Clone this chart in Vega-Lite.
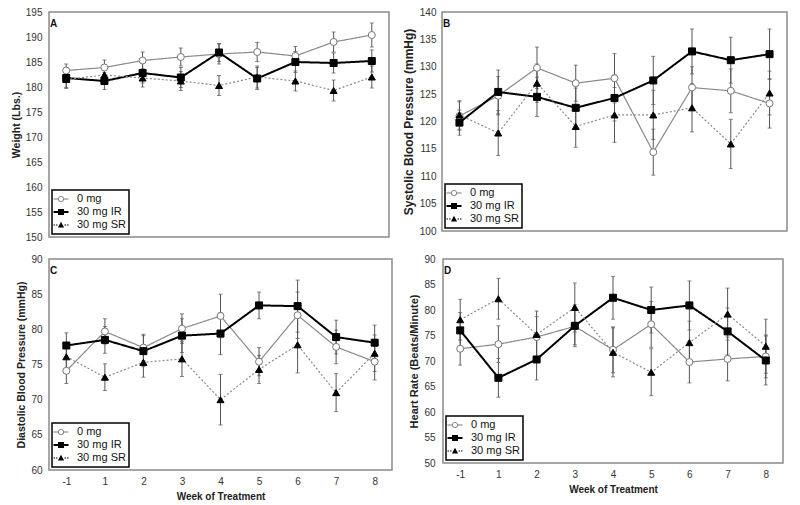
{
  "$schema": "https://vega.github.io/schema/vega-lite/v6.json",
  "padding": {"left": 10, "top": 6, "right": 5, "bottom": 2},
  "background": "white",
  "config": {
    "font": "Liberation Sans",
    "view": {"stroke": "#8a8a8a", "strokeWidth": 1.5},
    "axisY": {"domain": false, "ticks": false, "grid": false, "labelOverlap": false, "labelFont": "Liberation Sans", "labelFontSize": 10, "labelColor": "#333", "labelPadding": 7, "titleFont": "Liberation Sans", "titleFontSize": 10.5, "titleFontWeight": "bold", "titleColor": "#222", "titlePadding": 4},
    "axisX": {"domain": false, "ticks": false, "grid": false, "labelOverlap": false, "labelAngle": 0, "labelFont": "Liberation Sans", "labelFontSize": 10, "labelColor": "#333", "labelPadding": 6, "titleFont": "Liberation Sans", "titleFontSize": 10, "titleFontWeight": "bold", "titleColor": "#222", "titlePadding": 5},
    "legend": {"orient": "bottom-left", "offset": 3, "padding": 3, "rowPadding": 0, "strokeColor": "black", "strokeWidth": 1.5, "fillColor": "white", "symbolSize": 100, "labelFont": "Liberation Sans", "labelFontSize": 11, "labelColor": "#111", "labelOffset": 10},
    "title": {"anchor": "start", "frame": "group", "offset": -22, "dx": 1, "baseline": "top", "fontSize": 10, "fontWeight": "bold", "font": "Liberation Sans", "color": "#111"}
  },
  "datasets": {
    "A": [
      {"week": "-1", "group": "0 mg", "mean": 183.3, "se": 1.3},
      {"week": "1", "group": "0 mg", "mean": 183.9, "se": 1.5},
      {"week": "2", "group": "0 mg", "mean": 185.3, "se": 1.7},
      {"week": "3", "group": "0 mg", "mean": 186.0, "se": 1.8},
      {"week": "4", "group": "0 mg", "mean": 186.6, "se": 2.0},
      {"week": "5", "group": "0 mg", "mean": 187.0, "se": 1.9},
      {"week": "6", "group": "0 mg", "mean": 186.2, "se": 1.9},
      {"week": "7", "group": "0 mg", "mean": 189.0, "se": 2.0},
      {"week": "8", "group": "0 mg", "mean": 190.4, "se": 2.4},
      {"week": "-1", "group": "30 mg IR", "mean": 181.8, "se": 1.9},
      {"week": "1", "group": "30 mg IR", "mean": 181.2, "se": 1.7},
      {"week": "2", "group": "30 mg IR", "mean": 182.8, "se": 2.0},
      {"week": "3", "group": "30 mg IR", "mean": 181.9, "se": 2.0},
      {"week": "4", "group": "30 mg IR", "mean": 186.9, "se": 1.8},
      {"week": "5", "group": "30 mg IR", "mean": 181.7, "se": 2.2},
      {"week": "6", "group": "30 mg IR", "mean": 185.0, "se": 2.1},
      {"week": "7", "group": "30 mg IR", "mean": 184.8, "se": 2.0},
      {"week": "8", "group": "30 mg IR", "mean": 185.2, "se": 2.2},
      {"week": "-1", "group": "30 mg SR", "mean": 181.5, "se": 1.8},
      {"week": "1", "group": "30 mg SR", "mean": 182.4, "se": 1.9},
      {"week": "2", "group": "30 mg SR", "mean": 181.8, "se": 1.8},
      {"week": "3", "group": "30 mg SR", "mean": 181.2, "se": 1.9},
      {"week": "4", "group": "30 mg SR", "mean": 180.3, "se": 2.0},
      {"week": "5", "group": "30 mg SR", "mean": 182.0, "se": 2.2},
      {"week": "6", "group": "30 mg SR", "mean": 181.2, "se": 2.0},
      {"week": "7", "group": "30 mg SR", "mean": 179.3, "se": 2.1},
      {"week": "8", "group": "30 mg SR", "mean": 182.0, "se": 2.2}
    ],
    "B": [
      {"week": "-1", "group": "0 mg", "mean": 121.0, "se": 2.6},
      {"week": "1", "group": "0 mg", "mean": 124.7, "se": 3.5},
      {"week": "2", "group": "0 mg", "mean": 129.8, "se": 3.8},
      {"week": "3", "group": "0 mg", "mean": 127.0, "se": 3.3},
      {"week": "4", "group": "0 mg", "mean": 127.9, "se": 4.5},
      {"week": "5", "group": "0 mg", "mean": 114.4, "se": 4.2},
      {"week": "6", "group": "0 mg", "mean": 126.2, "se": 3.8},
      {"week": "7", "group": "0 mg", "mean": 125.6, "se": 4.0},
      {"week": "8", "group": "0 mg", "mean": 123.3, "se": 4.5},
      {"week": "-1", "group": "30 mg IR", "mean": 119.8, "se": 2.3},
      {"week": "1", "group": "30 mg IR", "mean": 125.4, "se": 4.0},
      {"week": "2", "group": "30 mg IR", "mean": 124.5, "se": 3.6},
      {"week": "3", "group": "30 mg IR", "mean": 122.5, "se": 3.6},
      {"week": "4", "group": "30 mg IR", "mean": 124.3, "se": 4.2},
      {"week": "5", "group": "30 mg IR", "mean": 127.5, "se": 4.4},
      {"week": "6", "group": "30 mg IR", "mean": 132.8, "se": 4.1},
      {"week": "7", "group": "30 mg IR", "mean": 131.2, "se": 4.2},
      {"week": "8", "group": "30 mg IR", "mean": 132.3, "se": 4.6},
      {"week": "-1", "group": "30 mg SR", "mean": 121.2, "se": 2.6},
      {"week": "1", "group": "30 mg SR", "mean": 117.9, "se": 4.1},
      {"week": "2", "group": "30 mg SR", "mean": 127.0, "se": 3.5},
      {"week": "3", "group": "30 mg SR", "mean": 119.1, "se": 3.8},
      {"week": "4", "group": "30 mg SR", "mean": 121.2, "se": 5.0},
      {"week": "5", "group": "30 mg SR", "mean": 121.2, "se": 4.5},
      {"week": "6", "group": "30 mg SR", "mean": 122.5, "se": 4.4},
      {"week": "7", "group": "30 mg SR", "mean": 115.9, "se": 4.5},
      {"week": "8", "group": "30 mg SR", "mean": 125.2, "se": 4.0}
    ],
    "C": [
      {"week": "-1", "group": "0 mg", "mean": 74.1, "se": 1.8},
      {"week": "1", "group": "0 mg", "mean": 79.7, "se": 1.8},
      {"week": "2", "group": "0 mg", "mean": 77.4, "se": 1.9},
      {"week": "3", "group": "0 mg", "mean": 80.1, "se": 2.1},
      {"week": "4", "group": "0 mg", "mean": 81.9, "se": 3.1},
      {"week": "5", "group": "0 mg", "mean": 75.4, "se": 2.0},
      {"week": "6", "group": "0 mg", "mean": 82.0, "se": 3.3},
      {"week": "7", "group": "0 mg", "mean": 77.5, "se": 2.4},
      {"week": "8", "group": "0 mg", "mean": 75.4, "se": 2.6},
      {"week": "-1", "group": "30 mg IR", "mean": 77.7, "se": 1.8},
      {"week": "1", "group": "30 mg IR", "mean": 78.5, "se": 1.9},
      {"week": "2", "group": "30 mg IR", "mean": 76.9, "se": 2.2},
      {"week": "3", "group": "30 mg IR", "mean": 79.1, "se": 2.4},
      {"week": "4", "group": "30 mg IR", "mean": 79.4, "se": 3.0},
      {"week": "5", "group": "30 mg IR", "mean": 83.4, "se": 1.9},
      {"week": "6", "group": "30 mg IR", "mean": 83.3, "se": 3.7},
      {"week": "7", "group": "30 mg IR", "mean": 78.9, "se": 2.4},
      {"week": "8", "group": "30 mg IR", "mean": 78.1, "se": 2.5},
      {"week": "-1", "group": "30 mg SR", "mean": 76.1, "se": 2.0},
      {"week": "1", "group": "30 mg SR", "mean": 73.2, "se": 1.9},
      {"week": "2", "group": "30 mg SR", "mean": 75.3, "se": 2.1},
      {"week": "3", "group": "30 mg SR", "mean": 75.8, "se": 2.5},
      {"week": "4", "group": "30 mg SR", "mean": 70.0, "se": 3.6},
      {"week": "5", "group": "30 mg SR", "mean": 74.3, "se": 2.0},
      {"week": "6", "group": "30 mg SR", "mean": 77.8, "se": 4.0},
      {"week": "7", "group": "30 mg SR", "mean": 71.0, "se": 2.7},
      {"week": "8", "group": "30 mg SR", "mean": 76.6, "se": 2.6}
    ],
    "D": [
      {"week": "-1", "group": "0 mg", "mean": 72.4, "se": 3.2},
      {"week": "1", "group": "0 mg", "mean": 73.3, "se": 3.6},
      {"week": "2", "group": "0 mg", "mean": 74.7, "se": 4.0},
      {"week": "3", "group": "0 mg", "mean": 76.8, "se": 3.6},
      {"week": "4", "group": "0 mg", "mean": 72.2, "se": 4.5},
      {"week": "5", "group": "0 mg", "mean": 77.2, "se": 4.5},
      {"week": "6", "group": "0 mg", "mean": 69.8, "se": 4.1},
      {"week": "7", "group": "0 mg", "mean": 70.4, "se": 4.3},
      {"week": "8", "group": "0 mg", "mean": 70.9, "se": 4.2},
      {"week": "-1", "group": "30 mg IR", "mean": 76.0, "se": 3.5},
      {"week": "1", "group": "30 mg IR", "mean": 66.7, "se": 3.8},
      {"week": "2", "group": "30 mg IR", "mean": 70.3, "se": 4.0},
      {"week": "3", "group": "30 mg IR", "mean": 76.9, "se": 4.1},
      {"week": "4", "group": "30 mg IR", "mean": 82.4, "se": 4.2},
      {"week": "5", "group": "30 mg IR", "mean": 80.0, "se": 4.5},
      {"week": "6", "group": "30 mg IR", "mean": 80.9, "se": 4.8},
      {"week": "7", "group": "30 mg IR", "mean": 75.8, "se": 4.6},
      {"week": "8", "group": "30 mg IR", "mean": 70.1, "se": 4.8},
      {"week": "-1", "group": "30 mg SR", "mean": 78.1, "se": 4.0},
      {"week": "1", "group": "30 mg SR", "mean": 82.2, "se": 4.0},
      {"week": "2", "group": "30 mg SR", "mean": 75.2, "se": 4.6},
      {"week": "3", "group": "30 mg SR", "mean": 80.5, "se": 4.8},
      {"week": "4", "group": "30 mg SR", "mean": 71.7, "se": 4.8},
      {"week": "5", "group": "30 mg SR", "mean": 67.8, "se": 4.6},
      {"week": "6", "group": "30 mg SR", "mean": 73.6, "se": 4.2},
      {"week": "7", "group": "30 mg SR", "mean": 79.2, "se": 5.1},
      {"week": "8", "group": "30 mg SR", "mean": 72.9, "se": 5.3}
    ]
  },
  "spacing": 10,
  "resolve": {"scale": {"x": "independent", "y": "independent", "opacity": "independent"}, "legend": {"opacity": "independent"}},
  "vconcat": [
    {
      "spacing": 11,
      "resolve": {"scale": {"x": "independent", "y": "independent", "opacity": "independent"}, "legend": {"opacity": "independent"}},
      "hconcat": [
        {
          "width": 340, "height": 225,
          "data": {"name": "A"},
          "title": {"text": "A"},
          "encoding": {
            "x": {"field": "week", "type": "ordinal", "sort": ["-1", "1", "2", "3", "4", "5", "6", "7", "8"], "scale": {"type": "point", "padding": 0.45}, "axis": null},
            "y": {"field": "mean", "type": "quantitative", "scale": {"domain": [150, 195], "nice": false, "zero": false}, "axis": {"title": "Weight (Lbs.)", "values": [150, 155, 160, 165, 170, 175, 180, 185, 190, 195], "labelOverlap": false}}
          },
          "layer": [
            {"mark": {"type": "errorbar", "ticks": {"size": 4, "color": "#555"}, "rule": {"color": "#555", "strokeWidth": 1}},
             "encoding": {"yError": {"field": "se"}}},
            {"mark": {"type": "line"},
             "encoding": {"detail": {"field": "group"},
               "color": {"condition": {"test": "datum.group === '30 mg IR'", "value": "#000000"}, "value": "#8a8a8a"},
               "strokeDash": {"condition": {"test": "datum.group === '30 mg SR'", "value": [2, 2]}, "value": [1, 0]},
               "strokeWidth": {"condition": {"test": "datum.group === '30 mg IR'", "value": 2}, "value": 1.2}}},
            {"mark": {"type": "point", "filled": true, "opacity": 1, "size": 49, "strokeWidth": 1},
             "encoding": {
               "shape": {"condition": [{"test": "datum.group === '0 mg'", "value": "circle"}, {"test": "datum.group === '30 mg IR'", "value": "square"}], "value": "triangle-up"},
               "fill": {"condition": {"test": "datum.group === '0 mg'", "value": "white"}, "value": "black"},
               "stroke": {"condition": {"test": "datum.group === '0 mg'", "value": "#777"}, "value": "black"}}},
            {"transform": [{"filter": "false"}],
             "mark": {"type": "point", "filled": true},
             "encoding": {
               "fill": {"value": {"expr": "datum.value === '0 mg' ? '#7a7a7a' : 'black'"}},
               "opacity": {"field": "group", "type": "nominal", "scale": {"type": "ordinal", "domain": ["0 mg", "30 mg IR", "30 mg SR"], "range": [1, 1, 1]},
                 "legend": {"title": null, "labelExpr": "datum.label === '0 mg' ? '\u2002' + datum.label : datum.label",
                   "symbolType": {"expr": "datum.value === '0 mg' ? 'M-1.5,-0.1H-0.6V0.1H-1.5ZM0.6,-0.1H1.5V0.1H0.6ZM0.62,0A0.62,0.62,0,1,1,-0.62,0A0.62,0.62,0,1,1,0.62,0ZM0.44,0A0.44,0.44,0,1,0,-0.44,0A0.44,0.44,0,1,0,0.44,0Z' : datum.value === '30 mg IR' ? 'M-1.5,-0.2H1.5V0.2H-1.5ZM-0.6,-0.6H0.6V0.6H-0.6Z' : 'M-1.5,-0.1H-1.2V0.1H-1.5ZM-1.0,-0.1H-0.7V0.1H-1.0ZM0.7,-0.1H1.0V0.1H0.7ZM1.2,-0.1H1.5V0.1H1.2ZM0,-0.66L0.62,0.5H-0.62Z'"}}}}}
          ]
        },
        {
          "width": 345, "height": 219,
          "data": {"name": "B"},
          "title": {"text": "B"},
          "encoding": {
            "x": {"field": "week", "type": "ordinal", "sort": ["-1", "1", "2", "3", "4", "5", "6", "7", "8"], "scale": {"type": "point", "padding": 0.45}, "axis": null},
            "y": {"field": "mean", "type": "quantitative", "scale": {"domain": [100, 140], "nice": false, "zero": false}, "axis": {"title": "Systolic Blood Pressure (mmHg)", "titleFontSize": 12, "values": [100, 105, 110, 115, 120, 125, 130, 135, 140], "labelPadding": 6, "labelOverlap": false}}
          },
          "layer": [
            {"mark": {"type": "errorbar", "ticks": {"size": 4, "color": "#555"}, "rule": {"color": "#555", "strokeWidth": 1}},
             "encoding": {"yError": {"field": "se"}}},
            {"mark": {"type": "line"},
             "encoding": {"detail": {"field": "group"},
               "color": {"condition": {"test": "datum.group === '30 mg IR'", "value": "#000000"}, "value": "#8a8a8a"},
               "strokeDash": {"condition": {"test": "datum.group === '30 mg SR'", "value": [2, 2]}, "value": [1, 0]},
               "strokeWidth": {"condition": {"test": "datum.group === '30 mg IR'", "value": 2}, "value": 1.2}}},
            {"mark": {"type": "point", "filled": true, "opacity": 1, "size": 49, "strokeWidth": 1},
             "encoding": {
               "shape": {"condition": [{"test": "datum.group === '0 mg'", "value": "circle"}, {"test": "datum.group === '30 mg IR'", "value": "square"}], "value": "triangle-up"},
               "fill": {"condition": {"test": "datum.group === '0 mg'", "value": "white"}, "value": "black"},
               "stroke": {"condition": {"test": "datum.group === '0 mg'", "value": "#777"}, "value": "black"}}},
            {"transform": [{"filter": "false"}],
             "mark": {"type": "point", "filled": true},
             "encoding": {
               "fill": {"value": {"expr": "datum.value === '0 mg' ? '#7a7a7a' : 'black'"}},
               "opacity": {"field": "group", "type": "nominal", "scale": {"type": "ordinal", "domain": ["0 mg", "30 mg IR", "30 mg SR"], "range": [1, 1, 1]},
                 "legend": {"title": null, "labelExpr": "datum.label === '0 mg' ? '\u2002' + datum.label : datum.label",
                   "symbolType": {"expr": "datum.value === '0 mg' ? 'M-1.5,-0.1H-0.6V0.1H-1.5ZM0.6,-0.1H1.5V0.1H0.6ZM0.62,0A0.62,0.62,0,1,1,-0.62,0A0.62,0.62,0,1,1,0.62,0ZM0.44,0A0.44,0.44,0,1,0,-0.44,0A0.44,0.44,0,1,0,0.44,0Z' : datum.value === '30 mg IR' ? 'M-1.5,-0.2H1.5V0.2H-1.5ZM-0.6,-0.6H0.6V0.6H-0.6Z' : 'M-1.5,-0.1H-1.2V0.1H-1.5ZM-1.0,-0.1H-0.7V0.1H-1.0ZM0.7,-0.1H1.0V0.1H0.7ZM1.2,-0.1H1.5V0.1H1.2ZM0,-0.66L0.62,0.5H-0.62Z'"}}}}}
          ]
        }
      ]
    },
    {
      "spacing": 15,
      "resolve": {"scale": {"x": "independent", "y": "independent", "opacity": "independent"}, "legend": {"opacity": "independent"}},
      "hconcat": [
        {
          "width": 343, "height": 211,
          "data": {"name": "C"},
          "title": {"text": "C"},
          "encoding": {
            "x": {"field": "week", "type": "ordinal", "sort": ["-1", "1", "2", "3", "4", "5", "6", "7", "8"], "scale": {"type": "point", "padding": 0.45}, "axis": {"title": "Week of Treatment"}},
            "y": {"field": "mean", "type": "quantitative", "scale": {"domain": [60, 90], "nice": false, "zero": false}, "axis": {"title": "Diastolic Blood Pressure (mmHg)", "values": [60, 65, 70, 75, 80, 85, 90], "labelOverlap": false}}
          },
          "layer": [
            {"mark": {"type": "errorbar", "ticks": {"size": 4, "color": "#555"}, "rule": {"color": "#555", "strokeWidth": 1}},
             "encoding": {"yError": {"field": "se"}}},
            {"mark": {"type": "line"},
             "encoding": {"detail": {"field": "group"},
               "color": {"condition": {"test": "datum.group === '30 mg IR'", "value": "#000000"}, "value": "#8a8a8a"},
               "strokeDash": {"condition": {"test": "datum.group === '30 mg SR'", "value": [2, 2]}, "value": [1, 0]},
               "strokeWidth": {"condition": {"test": "datum.group === '30 mg IR'", "value": 2}, "value": 1.2}}},
            {"mark": {"type": "point", "filled": true, "opacity": 1, "size": 49, "strokeWidth": 1},
             "encoding": {
               "shape": {"condition": [{"test": "datum.group === '0 mg'", "value": "circle"}, {"test": "datum.group === '30 mg IR'", "value": "square"}], "value": "triangle-up"},
               "fill": {"condition": {"test": "datum.group === '0 mg'", "value": "white"}, "value": "black"},
               "stroke": {"condition": {"test": "datum.group === '0 mg'", "value": "#777"}, "value": "black"}}},
            {"transform": [{"filter": "false"}],
             "mark": {"type": "point", "filled": true},
             "encoding": {
               "fill": {"value": {"expr": "datum.value === '0 mg' ? '#7a7a7a' : 'black'"}},
               "opacity": {"field": "group", "type": "nominal", "scale": {"type": "ordinal", "domain": ["0 mg", "30 mg IR", "30 mg SR"], "range": [1, 1, 1]},
                 "legend": {"title": null, "labelExpr": "datum.label === '0 mg' ? '\u2002' + datum.label : datum.label",
                   "symbolType": {"expr": "datum.value === '0 mg' ? 'M-1.5,-0.1H-0.6V0.1H-1.5ZM0.6,-0.1H1.5V0.1H0.6ZM0.62,0A0.62,0.62,0,1,1,-0.62,0A0.62,0.62,0,1,1,0.62,0ZM0.44,0A0.44,0.44,0,1,0,-0.44,0A0.44,0.44,0,1,0,0.44,0Z' : datum.value === '30 mg IR' ? 'M-1.5,-0.2H1.5V0.2H-1.5ZM-0.6,-0.6H0.6V0.6H-0.6Z' : 'M-1.5,-0.1H-1.2V0.1H-1.5ZM-1.0,-0.1H-0.7V0.1H-1.0ZM0.7,-0.1H1.0V0.1H0.7ZM1.2,-0.1H1.5V0.1H1.2ZM0,-0.66L0.62,0.5H-0.62Z'"}}}}}
          ]
        },
        {
          "width": 340, "height": 204,
          "data": {"name": "D"},
          "title": {"text": "D"},
          "encoding": {
            "x": {"field": "week", "type": "ordinal", "sort": ["-1", "1", "2", "3", "4", "5", "6", "7", "8"], "scale": {"type": "point", "padding": 0.45}, "axis": {"title": "Week of Treatment"}},
            "y": {"field": "mean", "type": "quantitative", "scale": {"domain": [50, 90], "nice": false, "zero": false}, "axis": {"title": "Heart Rate (Beats/Minute)", "titleFontSize": 11, "values": [50, 55, 60, 65, 70, 75, 80, 85, 90], "labelPadding": 8, "labelOverlap": false}}
          },
          "layer": [
            {"mark": {"type": "errorbar", "ticks": {"size": 4, "color": "#555"}, "rule": {"color": "#555", "strokeWidth": 1}},
             "encoding": {"yError": {"field": "se"}}},
            {"mark": {"type": "line"},
             "encoding": {"detail": {"field": "group"},
               "color": {"condition": {"test": "datum.group === '30 mg IR'", "value": "#000000"}, "value": "#8a8a8a"},
               "strokeDash": {"condition": {"test": "datum.group === '30 mg SR'", "value": [2, 2]}, "value": [1, 0]},
               "strokeWidth": {"condition": {"test": "datum.group === '30 mg IR'", "value": 2}, "value": 1.2}}},
            {"mark": {"type": "point", "filled": true, "opacity": 1, "size": 49, "strokeWidth": 1},
             "encoding": {
               "shape": {"condition": [{"test": "datum.group === '0 mg'", "value": "circle"}, {"test": "datum.group === '30 mg IR'", "value": "square"}], "value": "triangle-up"},
               "fill": {"condition": {"test": "datum.group === '0 mg'", "value": "white"}, "value": "black"},
               "stroke": {"condition": {"test": "datum.group === '0 mg'", "value": "#777"}, "value": "black"}}},
            {"transform": [{"filter": "false"}],
             "mark": {"type": "point", "filled": true},
             "encoding": {
               "fill": {"value": {"expr": "datum.value === '0 mg' ? '#7a7a7a' : 'black'"}},
               "opacity": {"field": "group", "type": "nominal", "scale": {"type": "ordinal", "domain": ["0 mg", "30 mg IR", "30 mg SR"], "range": [1, 1, 1]},
                 "legend": {"title": null, "labelExpr": "datum.label === '0 mg' ? '\u2002' + datum.label : datum.label",
                   "symbolType": {"expr": "datum.value === '0 mg' ? 'M-1.5,-0.1H-0.6V0.1H-1.5ZM0.6,-0.1H1.5V0.1H0.6ZM0.62,0A0.62,0.62,0,1,1,-0.62,0A0.62,0.62,0,1,1,0.62,0ZM0.44,0A0.44,0.44,0,1,0,-0.44,0A0.44,0.44,0,1,0,0.44,0Z' : datum.value === '30 mg IR' ? 'M-1.5,-0.2H1.5V0.2H-1.5ZM-0.6,-0.6H0.6V0.6H-0.6Z' : 'M-1.5,-0.1H-1.2V0.1H-1.5ZM-1.0,-0.1H-0.7V0.1H-1.0ZM0.7,-0.1H1.0V0.1H0.7ZM1.2,-0.1H1.5V0.1H1.2ZM0,-0.66L0.62,0.5H-0.62Z'"}}}}}
          ]
        }
      ]
    }
  ]
}
